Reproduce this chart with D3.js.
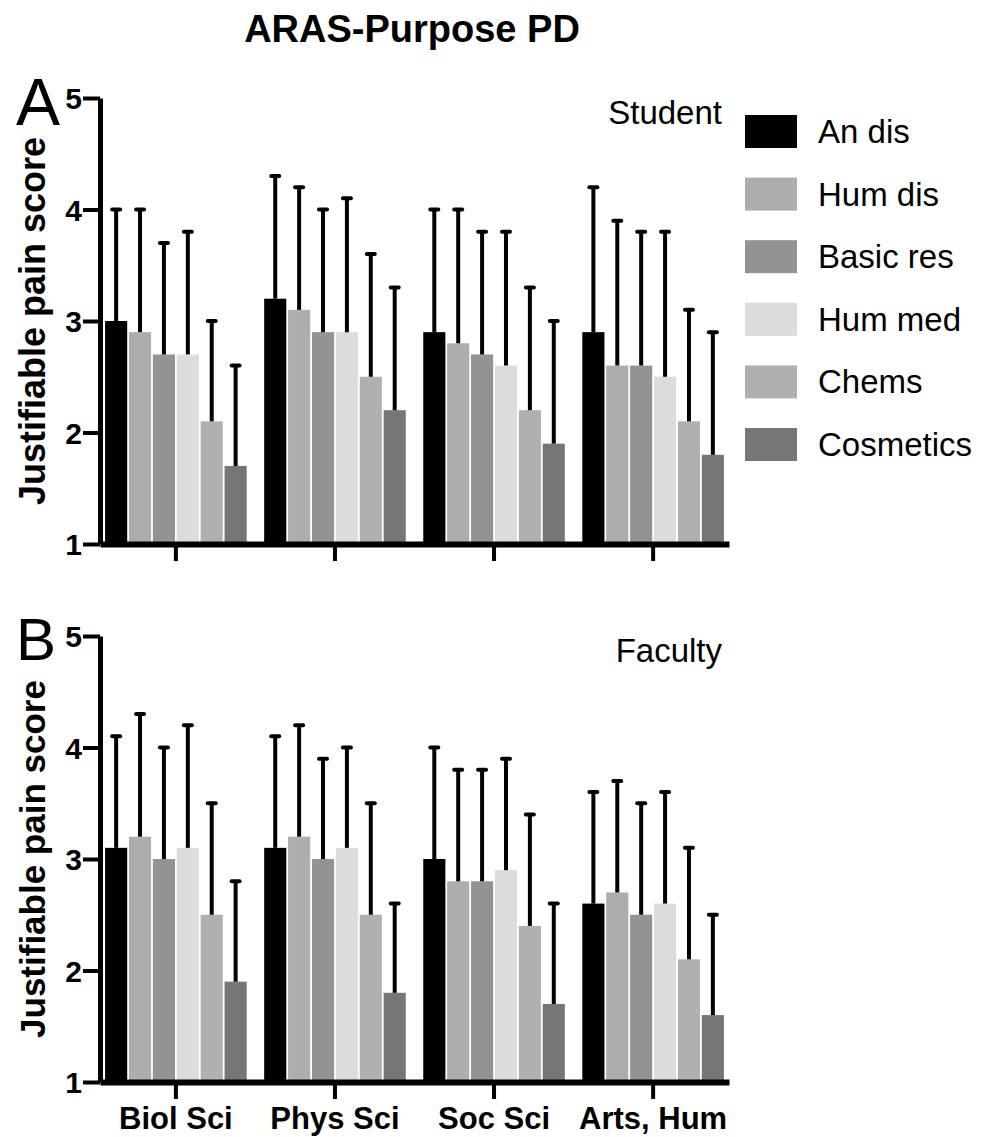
<!DOCTYPE html>
<html>
<head>
<meta charset="utf-8">
<script src="https://cdn.jsdelivr.net/npm/d3@7"></script>
<style>
  body { margin: 0; background: #fff; }
  svg { display: block; font-family: "Liberation Sans", Arial, sans-serif; }
</style>
</head>
<body>
<svg id="chart"></svg>
<script>
// Data
const categories = ["Biol Sci", "Phys Sci", "Soc Sci", "Arts, Hum"];
const series = ["An dis", "Hum dis", "Basic res", "Hum med", "Chems", "Cosmetics"];
const yTicks = [1, 2, 3, 4, 5];

// means per category (rows) and series (columns)
const studentMean = [
  [3.0, 2.9, 2.7, 2.7, 2.1, 1.7],
  [3.2, 3.1, 2.9, 2.9, 2.5, 2.2],
  [2.9, 2.8, 2.7, 2.6, 2.2, 1.9],
  [2.9, 2.6, 2.6, 2.5, 2.1, 1.8]
];
// top of the error bar
const studentTop = [
  [4.0, 4.0, 3.7, 3.8, 3.0, 2.6],
  [4.3, 4.2, 4.0, 4.1, 3.6, 3.3],
  [4.0, 4.0, 3.8, 3.8, 3.3, 3.0],
  [4.2, 3.9, 3.8, 3.8, 3.1, 2.9]
];
const facultyMean = [
  [3.1, 3.2, 3.0, 3.1, 2.5, 1.9],
  [3.1, 3.2, 3.0, 3.1, 2.5, 1.8],
  [3.0, 2.8, 2.8, 2.9, 2.4, 1.7],
  [2.6, 2.7, 2.5, 2.6, 2.1, 1.6]
];
const facultyTop = [
  [4.1, 4.3, 4.0, 4.2, 3.5, 2.8],
  [4.1, 4.2, 3.9, 4.0, 3.5, 2.6],
  [4.0, 3.8, 3.8, 3.9, 3.4, 2.6],
  [3.6, 3.7, 3.5, 3.6, 3.1, 2.5]
];

const colors = ["#000000", "#adadad", "#939393", "#dcdcdc", "#b0b0b0", "#767676"];

// Chart Dimensions
const width = 988;
const height = 1137;

const svg = d3.select("#chart").attr("width", width).attr("height", height);
svg.append("rect").attr("width", width).attr("height", height).attr("fill", "#fff");

// Scales
const xScale = d3
  .scaleBand()
  .domain(categories)
  .range([100, 729])
  .paddingInner(0.11)
  .paddingOuter(0.032);

const xInner = d3
  .scaleBand()
  .domain(series)
  .range([0, xScale.bandwidth()])
  .paddingInner(0.075);

const colorScale = d3.scaleOrdinal().domain(series).range(colors);

// Title
svg
  .append("text")
  .attr("x", 412)
  .attr("y", 42)
  .attr("text-anchor", "middle")
  .style("font-size", "38px")
  .style("font-weight", "bold")
  .text("ARAS-Purpose PD");

function drawPanel(cfg) {
  const yScale = d3.scaleLinear().domain([1, 5]).range([cfg.bottom, cfg.top]);
  const g = svg.append("g");

  const rows = categories.map((c, i) => ({
    cat: c,
    values: series.map((s, j) => ({ s, mean: cfg.mean[i][j], top: cfg.upper[i][j] }))
  }));

  const groups = g
    .selectAll(".group")
    .data(rows)
    .enter()
    .append("g")
    .attr("class", "group")
    .attr("transform", (d) => `translate(${xScale(d.cat)},0)`);

  // Bars
  groups
    .selectAll(".bar")
    .data((d) => d.values)
    .enter()
    .append("rect")
    .attr("class", "bar")
    .attr("x", (d) => xInner(d.s))
    .attr("y", (d) => yScale(d.mean))
    .attr("width", xInner.bandwidth())
    .attr("height", (d) => yScale(1) - yScale(d.mean))
    .attr("fill", (d) => colorScale(d.s));

  // Error bars
  const cx = (d) => xInner(d.s) + xInner.bandwidth() / 2;
  groups
    .selectAll(".err")
    .data((d) => d.values)
    .enter()
    .append("line")
    .attr("x1", cx)
    .attr("x2", cx)
    .attr("y1", (d) => yScale(d.mean))
    .attr("y2", (d) => yScale(d.top))
    .attr("stroke", "#000")
    .attr("stroke-width", 4);

  groups
    .selectAll(".cap")
    .data((d) => d.values)
    .enter()
    .append("line")
    .attr("x1", (d) => cx(d) - 4)
    .attr("x2", (d) => cx(d) + 4)
    .attr("y1", (d) => yScale(d.top))
    .attr("y2", (d) => yScale(d.top))
    .attr("stroke", "#000")
    .attr("stroke-width", 4)
    .attr("stroke-linecap", "round");

  // Axes
  const yAxis = d3
    .axisLeft(yScale)
    .tickValues(yTicks)
    .tickFormat(d3.format("d"))
    .tickSize(17)
    .tickSizeOuter(0)
    .tickPadding(1);

  const xAxis = d3
    .axisBottom(xScale)
    .tickSize(17)
    .tickSizeOuter(0)
    .tickPadding(8)
    .tickFormat(cfg.showLabels ? (d) => d : () => "");

  const gx = g
    .append("g")
    .attr("transform", `translate(0,${cfg.bottom})`)
    .call(xAxis);

  const gy = g.append("g").attr("transform", "translate(100,0)").call(yAxis);

  [gx, gy].forEach((ax) => {
    ax.select(".domain").attr("stroke", "#000");
    ax.selectAll(".tick line").attr("stroke-width", 4).attr("stroke", "#000");
    ax.selectAll("text")
      .attr("fill", "#000")
      .style("font-family", "'Liberation Sans', Arial, sans-serif")
      .style("font-weight", "bold");
  });
  gx.select(".domain").attr("stroke-width", 6);
  gy.select(".domain").attr("stroke-width", 5);
  gy.selectAll("text").style("font-size", "30px").attr("dy", "0.36em");
  gx.selectAll("text").style("font-size", "31px").attr("dy", "0.71em");

  // Y axis label
  g.append("text")
    .attr("transform", `translate(45,${(cfg.top + cfg.bottom) / 2}) rotate(-90)`)
    .attr("text-anchor", "middle")
    .style("font-size", cfg.labelSize + "px")
    .style("font-weight", "bold")
    .text("Justifiable pain score");

  // Panel letter
  g.append("text")
    .attr("x", 16)
    .attr("y", cfg.letterY)
    .style("font-size", cfg.letterSize + "px")
    .text(cfg.letter);

  // Group name
  g.append("text")
    .attr("x", 722)
    .attr("y", cfg.top + 26)
    .attr("text-anchor", "end")
    .style("font-size", "33px")
    .text(cfg.name);
}

drawPanel({
  mean: studentMean,
  upper: studentTop,
  top: 98,
  bottom: 544,
  showLabels: false,
  labelSize: 36,
  letter: "A",
  letterSize: 66,
  letterY: 125,
  name: "Student"
});

drawPanel({
  mean: facultyMean,
  upper: facultyTop,
  top: 636,
  bottom: 1082,
  showLabels: true,
  labelSize: 35,
  letter: "B",
  letterSize: 60,
  letterY: 660,
  name: "Faculty"
});

// Legend
const legend = svg
  .selectAll(".legend")
  .data(series)
  .enter()
  .append("g")
  .attr("class", "legend")
  .attr("transform", (d, i) => `translate(745,${115 + i * 62.6})`);

legend
  .append("rect")
  .attr("width", 52)
  .attr("height", 33)
  .attr("fill", (d) => colorScale(d));

legend
  .append("text")
  .attr("x", 73)
  .attr("y", 28)
  .style("font-size", "33px")
  .text((d) => d);
</script>
</body>
</html>
